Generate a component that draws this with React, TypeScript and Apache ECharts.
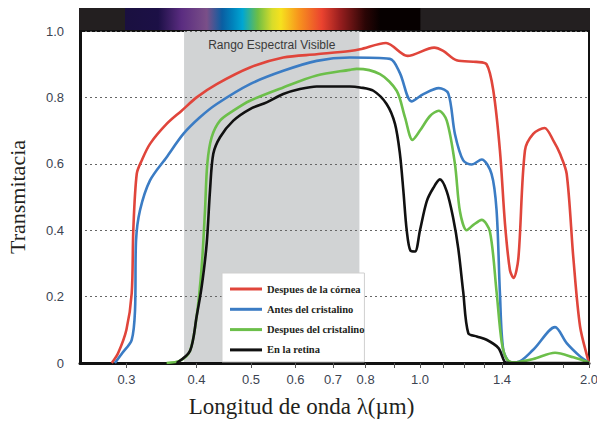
import React, { useEffect, useRef } from 'react';
import * as echarts from 'echarts';

// Wavelength (µm) / transmittance pairs
const corneaData: [number, number][] = [
  [0.2825, 0], [0.29, 0.03], [0.3, 0.1], [0.3066, 0.21], [0.3086, 0.4], [0.313, 0.57], [0.3194, 0.61],
  [0.3305, 0.66], [0.3538, 0.72], [0.3763, 0.76], [0.4001, 0.8], [0.4345, 0.84], [0.498, 0.89],
  [0.5708, 0.92], [0.6546, 0.93], [0.7502, 0.94], [0.782, 0.945], [0.87, 0.964], [0.95, 0.925],
  [1.06, 0.95], [1.1, 0.94], [1.162, 0.912], [1.26, 0.907], [1.314, 0.9], [1.351, 0.82], [1.388, 0.64],
  [1.417, 0.42], [1.446, 0.28], [1.468, 0.256], [1.497, 0.315], [1.538, 0.64], [1.591, 0.69],
  [1.667, 0.708], [1.728, 0.67], [1.776, 0.63], [1.825, 0.57], [1.876, 0.315], [1.928, 0.11],
  [1.994, 0.007], [2.0, 0],
];
const antesData: [number, number][] = [
  [0.2862, 0], [0.295, 0.03], [0.3066, 0.07], [0.3108, 0.16], [0.3121, 0.37], [0.3172, 0.46],
  [0.3305, 0.55], [0.3538, 0.62], [0.3789, 0.69], [0.4056, 0.74], [0.4345, 0.78], [0.498, 0.84],
  [0.5708, 0.88], [0.6546, 0.91], [0.7502, 0.92], [0.884, 0.916], [0.921, 0.873], [0.966, 0.788],
  [1.014, 0.81], [1.08, 0.828], [1.123, 0.812], [1.154, 0.69], [1.194, 0.61], [1.236, 0.598],
  [1.288, 0.613], [1.341, 0.57], [1.369, 0.46], [1.388, 0.21], [1.407, 0.04], [1.446, 0.003],
  [1.486, 0.002], [1.591, 0.04], [1.74, 0.108], [1.825, 0.06], [1.928, 0.02], [1.994, 0.002], [2.0, 0],
];
const despuesData: [number, number][] = [
  [0.3538, 0], [0.3737, 0.007], [0.3895, 0.037], [0.4001, 0.14], [0.4085, 0.29], [0.4141, 0.46],
  [0.418, 0.6], [0.4256, 0.68], [0.4404, 0.73], [0.4651, 0.76], [0.498, 0.79], [0.5708, 0.83],
  [0.6546, 0.866], [0.7502, 0.883], [0.7713, 0.886], [0.8487, 0.87], [0.9088, 0.82], [0.9403, 0.74],
  [0.97, 0.672], [1.0, 0.7], [1.042, 0.744], [1.08, 0.76], [1.116, 0.73], [1.154, 0.6], [1.178, 0.457],
  [1.211, 0.4], [1.245, 0.416], [1.288, 0.431], [1.332, 0.396], [1.369, 0.214], [1.398, 0.063],
  [1.427, 0.012], [1.466, 0.002], [1.591, 0.012], [1.74, 0.031], [1.876, 0.017], [1.994, 0.002], [2.0, 0],
];
const retinaData: [number, number][] = [
  [0.3687, 0], [0.3895, 0.037], [0.4001, 0.14], [0.4085, 0.23], [0.417, 0.36], [0.4227, 0.52],
  [0.4284, 0.63], [0.4404, 0.68], [0.4651, 0.73], [0.498, 0.765], [0.5333, 0.785], [0.5708, 0.81],
  [0.6112, 0.825], [0.6546, 0.833], [0.7502, 0.833], [0.782, 0.83], [0.826, 0.82], [0.872, 0.78],
  [0.9026, 0.72], [0.921, 0.63], [0.934, 0.52], [0.947, 0.4], [0.962, 0.338], [0.98, 0.336],
  [1.0, 0.4], [1.028, 0.487], [1.056, 0.527], [1.085, 0.553], [1.116, 0.517], [1.146, 0.436],
  [1.17, 0.345], [1.194, 0.214], [1.219, 0.09], [1.262, 0.08], [1.314, 0.07], [1.38, 0.045],
  [1.415, 0.004], [1.446, 0], [2.0, 0],
];

const seriesNames = ['Despues de la córnea', 'Antes del cristalino', 'Despues del cristalino', 'En la retina'];
const seriesColors = ['#e0453b', '#3b7cc4', '#6cbf4a', '#111111'];
const seriesValues = [corneaData, antesData, despuesData, retinaData];

const xTickValues = [0.3, 0.4, 0.5, 0.6, 0.7, 0.8, 0.9, 1.0, 1.1, 1.2, 1.3, 1.4, 1.6, 1.8, 2.0];
const xLabelValues = [0.3, 0.4, 0.5, 0.6, 0.7, 0.8, 1.0, 1.4, 2.0];
const xRange = [0.248, 2.0];
const visibleRange = [0.38, 0.78];
const visibleLabel = 'Rango Espectral Visible';

const spectrumStops: [number, string][] = [
  [0, '#231f20'], [0.09, '#231f20'], [0.0905, '#1a1040'], [0.155, '#1c1046'], [0.2, '#5a2c80'],
  [0.25, '#7a4f88'], [0.28, '#0a5ea2'], [0.3, '#0081bb'], [0.32, '#00a6d2'], [0.35, '#6ebe45'],
  [0.378, '#d8dc2a'], [0.395, '#f6e11e'], [0.43, '#f7941d'], [0.475, '#eb432f'], [0.51, '#9a1f1f'],
  [0.56, '#2a0505'], [0.59, '#060000'], [0.668, '#060000'], [0.6685, '#231f20'], [1, '#231f20'],
];

const lg = (v: number) => Math.log10(v);

export default function App() {
  const ref = useRef<HTMLDivElement>(null);
  useEffect(() => {
    document.body.style.margin = '0';
    if (!ref.current) return;
    const chart = echarts.init(ref.current, undefined, { renderer: 'svg' });
    const series: any[] = seriesNames.map((name, i) => ({
      name,
      type: 'line',
      data: seriesValues[i].map(([l, t]) => [lg(l), t]),
      showSymbol: false,
      symbol: 'none',
      smooth: 0.3,
      lineStyle: { color: seriesColors[i], width: 2.6 },
      itemStyle: { color: seriesColors[i] },
      z: 3,
    }));
    series[0].markArea = {
      silent: true,
      z: 1,
      itemStyle: { color: '#d1d3d4' },
      label: {
        show: true,
        position: 'insideTop',
        distance: 8,
        color: '#3a3a3a',
        fontSize: 12,
        fontFamily: 'Liberation Sans',
      },
      data: [[{ xAxis: lg(visibleRange[0]), name: visibleLabel }, { xAxis: lg(visibleRange[1]) }]],
    };
    chart.setOption({
      animation: false,
      grid: {
        left: 80, right: 8, top: 31, bottom: 63,
        outerBoundsMode: 'none',
        containLabel: false,
        show: true, borderColor: '#111', borderWidth: 2, backgroundColor: 'transparent',
      },
      graphic: [
        {
          type: 'rect',
          z: 10,
          shape: { x: 79, y: 8, width: 511, height: 22 },
          style: {
            fill: {
              type: 'linear', x: 0, y: 0, x2: 1, y2: 0,
              colorStops: spectrumStops.map(([offset, color]) => ({ offset, color })),
            },
          },
        },
      ],
      legend: {
        orient: 'vertical',
        left: 222,
        top: 273,
        data: seriesNames.map((name) => ({ name, icon: 'rect' })),
        itemWidth: 32,
        itemHeight: 3,
        itemGap: 8.3,
        padding: [10, 0, 6, 8],
        backgroundColor: '#ffffff',
        borderColor: '#cfcfcf',
        borderWidth: 1,
        selectedMode: false,
        textStyle: {
          fontFamily: 'Liberation Serif',
          fontWeight: 'bold',
          fontSize: 10.5,
          lineHeight: 12,
          color: '#231f20',
        },
      },
      xAxis: {
        type: 'value',
        min: lg(xRange[0]),
        max: lg(xRange[1]),
        z: 1.5,
        name: 'Longitud de onda λ(µm)',
        nameLocation: 'middle',
        nameGap: 32,
        nameTextStyle: {
          fontFamily: 'Liberation Serif', fontSize: 23, color: '#231f20', padding: [0, 66, 0, 0],
        },
        splitLine: { show: false },
        axisLine: { onZero: false, lineStyle: { color: '#111', width: 3 } },
        axisTick: {
          show: true, length: 5, inside: false,
          customValues: xTickValues.map(lg),
          lineStyle: { color: '#555', width: 1 },
        },
        axisLabel: {
          customValues: xLabelValues.map(lg),
          formatter: (v: number) => Math.pow(10, v).toFixed(1),
          margin: 10,
          fontFamily: 'Liberation Sans', fontSize: 13, color: '#3c4452',
        },
      },
      yAxis: {
        type: 'value',
        min: 0,
        max: 1,
        interval: 0.2,
        z: 1.5,
        name: 'Transmitacia',
        nameLocation: 'middle',
        nameGap: 52,
        nameTextStyle: { fontFamily: 'Liberation Serif', fontSize: 22, color: '#231f20' },
        axisLine: { show: true, onZero: false, lineStyle: { color: '#111', width: 3 } },
        axisTick: { show: false },
        splitLine: { show: true, lineStyle: { color: '#666', width: 1, type: [2, 3] } },
        axisLabel: {
          formatter: (v: number) => (v === 0 ? '0' : v.toFixed(1)),
          margin: 16,
          fontFamily: 'Liberation Sans', fontSize: 13, color: '#3c4452',
        },
      },
      series,
    });
    return () => chart.dispose();
  }, []);
  return (
    <div style={{ position: 'absolute', left: 0, top: 0 }}>
      <div ref={ref} style={{ width: 597, height: 426 }} />
    </div>
  );
}
